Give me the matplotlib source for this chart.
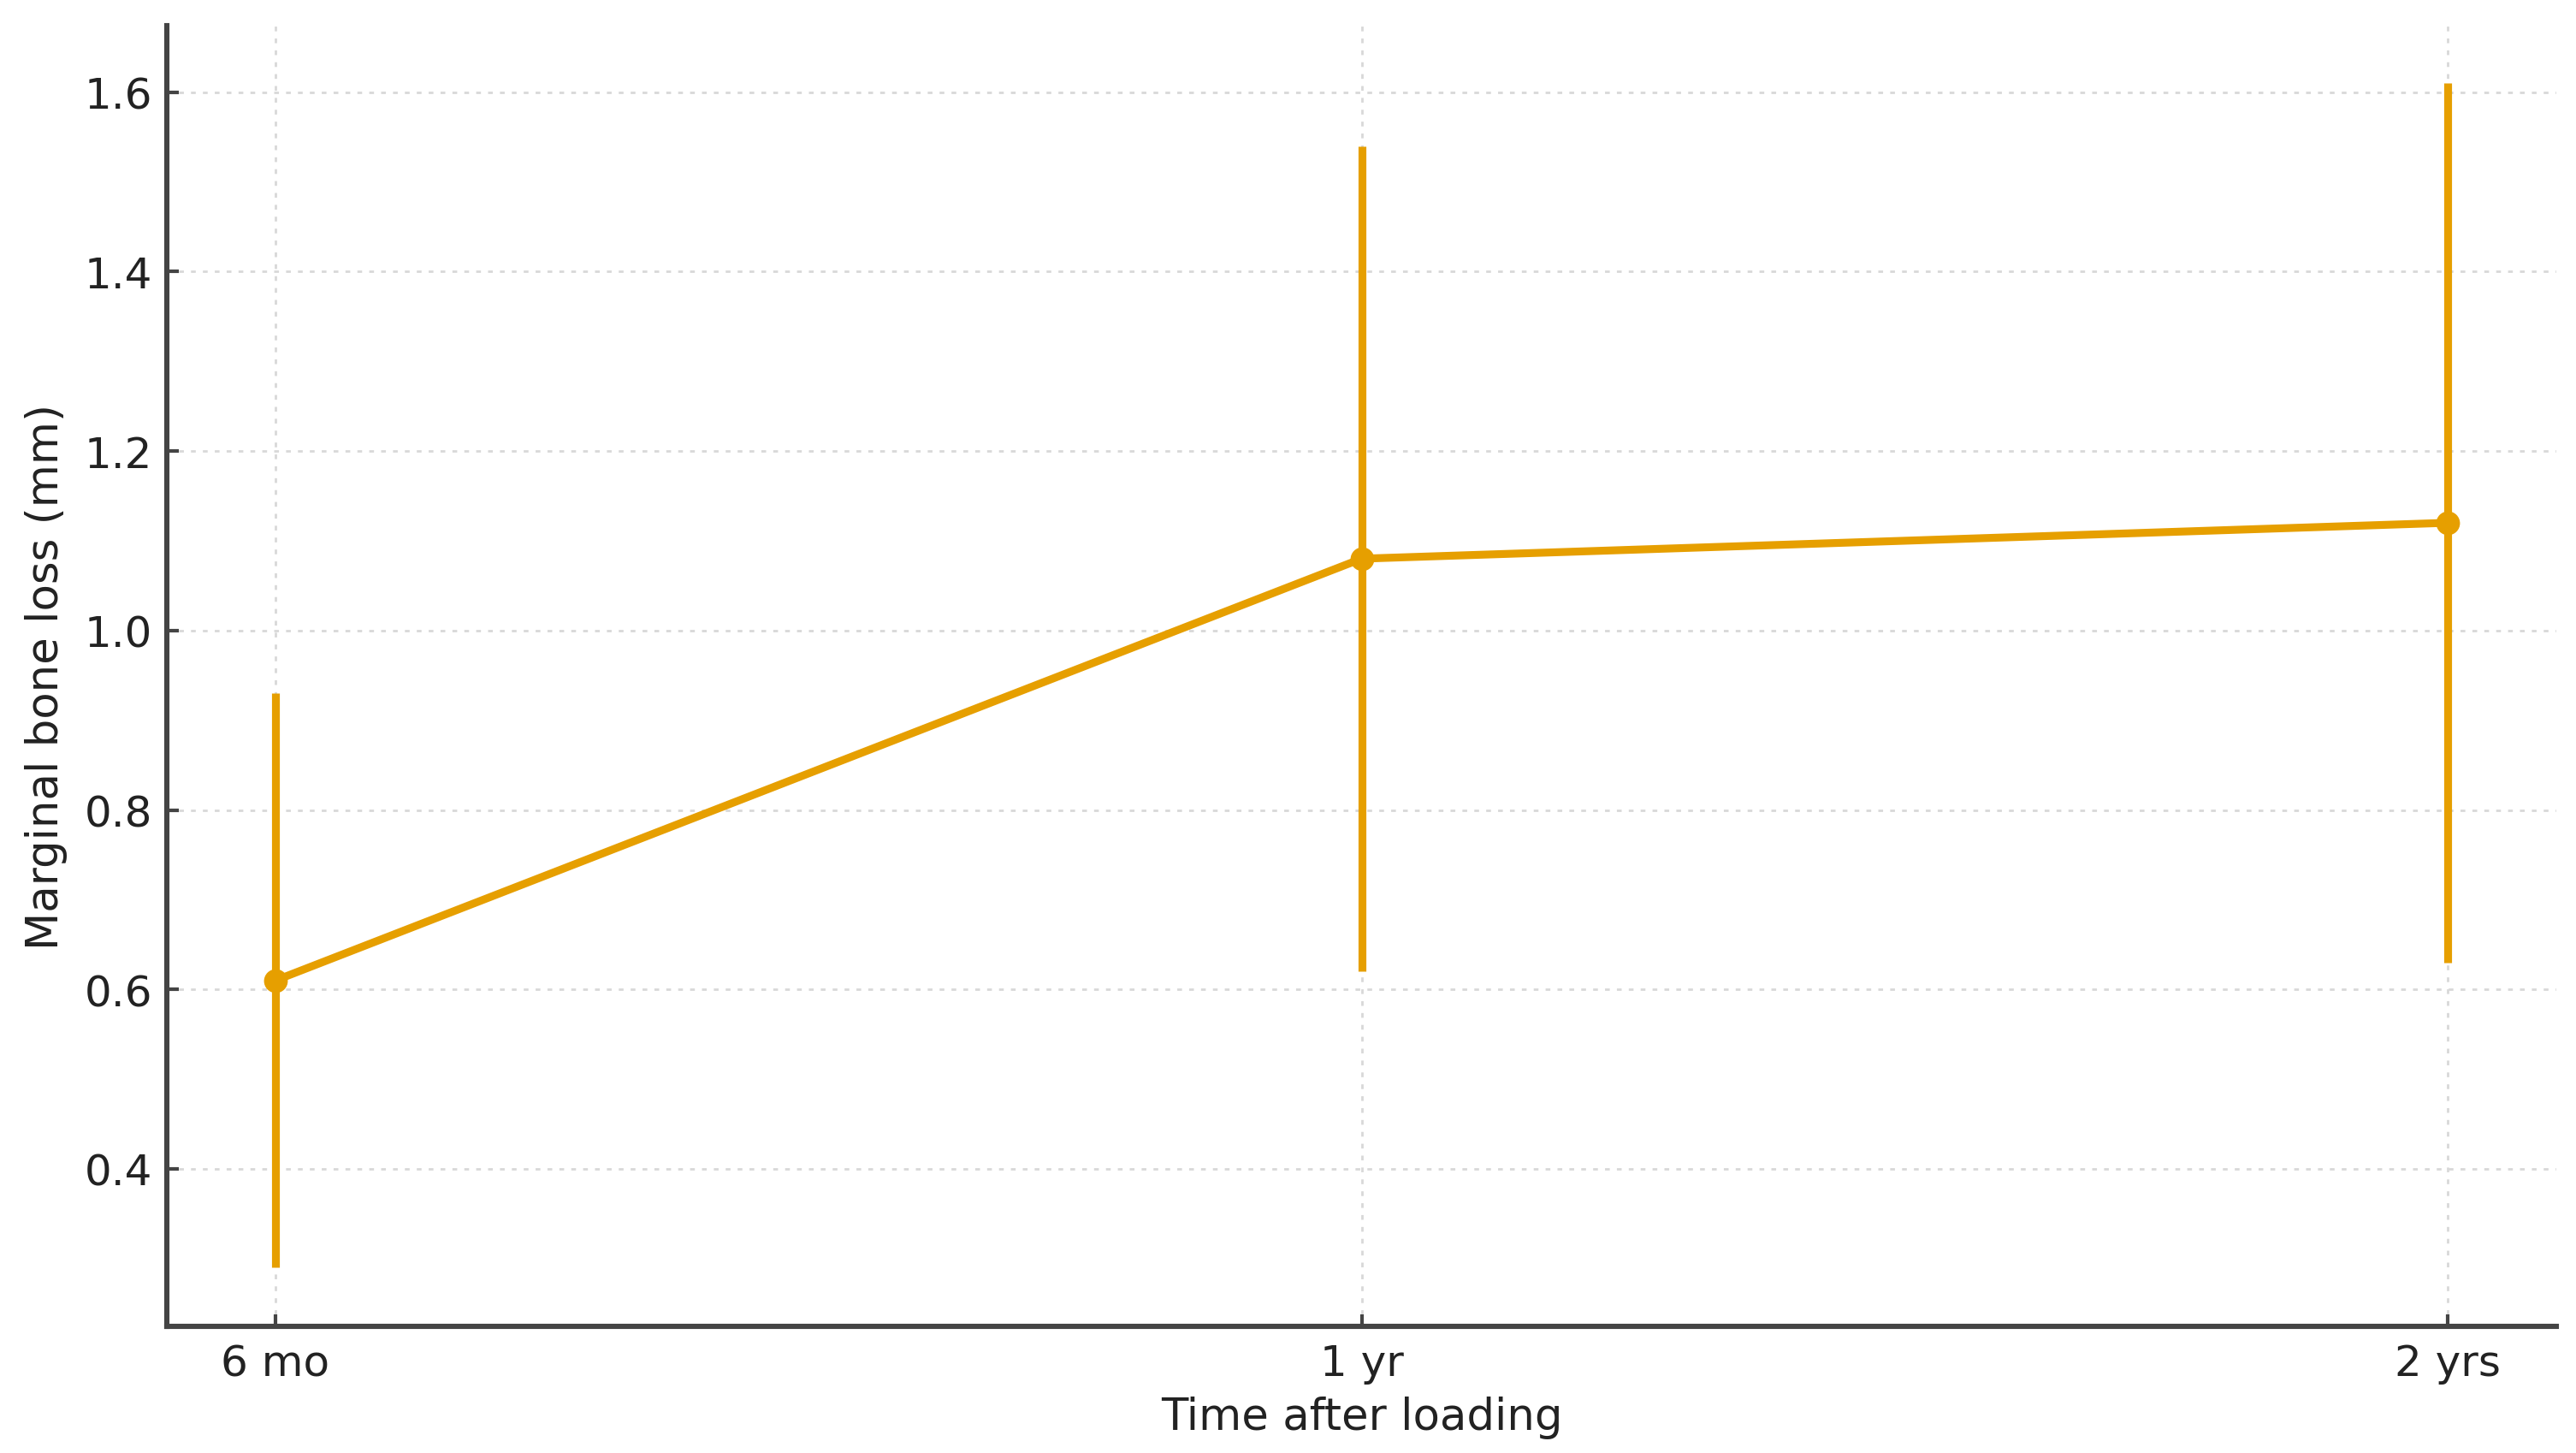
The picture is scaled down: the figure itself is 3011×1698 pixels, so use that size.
import matplotlib
matplotlib.use("Agg")
import matplotlib.pyplot as plt
import numpy as np

categories = ["6 mo", "1 yr", "2 yrs"]
means = [0.61, 1.08, 1.12]
errors = [0.32, 0.46, 0.49]

color = "#E69F00"

plt.rcParams['font.family'] = ['DejaVu Sans']
fig = plt.figure(figsize=(15.055, 8.495), dpi=200)
ax = fig.add_axes([195/3011, 1 - 1551/1699, (2988-195)/3011, (1551-31)/1699])

x = np.arange(len(categories))
ax.errorbar(x, means, yerr=errors, color=color, marker='o', markersize=9,
            linewidth=3.3, elinewidth=3.3, capsize=0, zorder=3)

ax.set_xticks(x)
ax.set_xticklabels(categories)
ax.set_yticks([0.4, 0.6, 0.8, 1.0, 1.2, 1.4, 1.6])
ax.set_xlim(-0.1, 2.1)
ax.set_ylim(0.2245, 1.674)

ax.grid(True, linestyle=(0, (2, 3)), color='#d8d8d8', linewidth=1.0, zorder=0)
ax.set_axisbelow(True)

for s in ['top', 'right']:
    ax.spines[s].set_visible(False)
for s in ['left', 'bottom']:
    ax.spines[s].set_linewidth(2.2)
    ax.spines[s].set_color('#444444')

ax.tick_params(axis='both', direction='in', length=5, width=1.5, color='#444444',
               labelsize=18, labelcolor='#222222')
ax.tick_params(axis='x', pad=7)
ax.tick_params(axis='y', pad=6)

ax.set_xlabel("Time after loading", fontsize=18.5, color='#222222', labelpad=5)
ax.set_ylabel("Marginal bone loss (mm)", fontsize=18.5, color='#222222', labelpad=7)

fig.savefig("out.png", dpi=200)
